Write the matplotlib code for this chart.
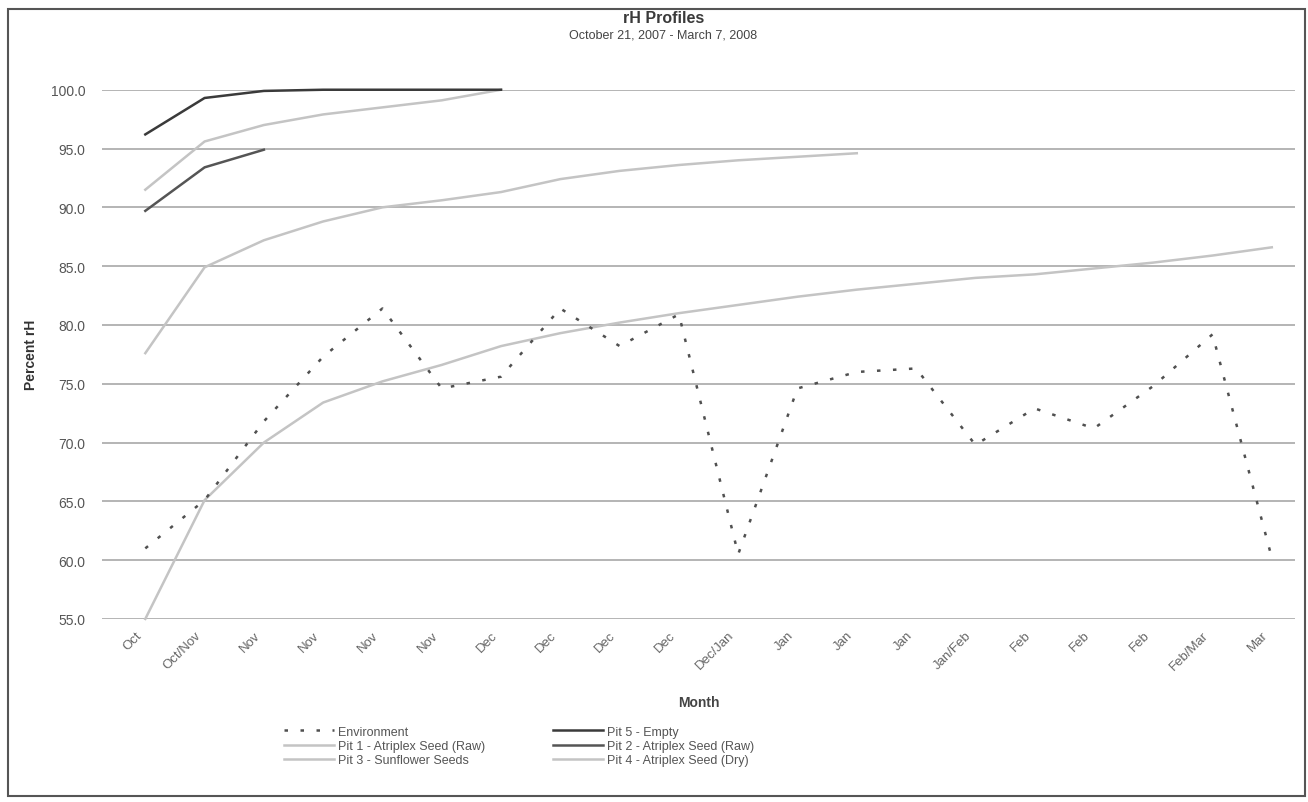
import matplotlib.pyplot as plt
import matplotlib.transforms as mtransforms
import numpy as np
from matplotlib.patches import Rectangle

plt.rcParams['font.family'] = ['Liberation Sans', 'DejaVu Sans']

months = ["Oct", "Oct/Nov", "Nov", "Nov", "Nov", "Nov", "Dec", "Dec", "Dec", "Dec",
          "Dec/Jan", "Jan", "Jan", "Jan", "Jan/Feb", "Feb", "Feb", "Feb", "Feb/Mar", "Mar"]

environment = [61.0, 65.1, 71.8, 77.3, 81.4, 74.6, 75.6, 81.4, 78.2, 80.9,
               60.5, 74.6, 76.0, 76.3, 69.8, 72.9, 71.2, 74.8, 79.2, 60.2]
pit5_empty = [96.2, 99.3, 99.9, 100.0, 100.0, 100.0, 100.0]
pit1_raw = [91.5, 95.6, 97.0, 97.9, 98.5, 99.1, 100.0]
pit2_raw = [89.7, 93.4, 94.9]
pit3_sunflower = [77.6, 84.9, 87.2, 88.8, 90.0, 90.6, 91.3, 92.4, 93.1, 93.6,
                  94.0, 94.3, 94.6]
pit4_dry = [55.0, 65.1, 70.0, 73.4, 75.2, 76.6, 78.2, 79.3, 80.2, 81.0,
            81.7, 82.4, 83.0, 83.5, 84.0, 84.3, 84.8, 85.3, 85.9, 86.6]

fig = plt.figure(figsize=(13.08, 8.03), dpi=100)
ax = fig.add_axes([0.078, 0.228, 0.912, 0.659])

# gridlines
for v in np.arange(55, 101, 5):
    ax.axhline(v, color="#a8a8a8", lw=1.2, zorder=1)

light = "#c4c4c4"
lw = 1.8
ax.plot(np.arange(len(environment)), environment, color="#505050", lw=1.8,
        linestyle=(0, (1.4, 5)), label="Environment", zorder=4, clip_on=False)
ax.plot(np.arange(len(pit1_raw)), pit1_raw, color=light, lw=lw,
        label="Pit 1 - Atriplex Seed (Raw)", zorder=3, clip_on=False)
ax.plot(np.arange(len(pit3_sunflower)), pit3_sunflower, color=light, lw=lw,
        label="Pit 3 - Sunflower Seeds", zorder=3, clip_on=False)
ax.plot(np.arange(len(pit5_empty)), pit5_empty, color="#3a3a3a", lw=lw,
        label="Pit 5 - Empty", zorder=3, clip_on=False)
ax.plot(np.arange(len(pit2_raw)), pit2_raw, color="#555555", lw=lw,
        label="Pit 2 - Atriplex Seed (Raw)", zorder=3, clip_on=False)
ax.plot(np.arange(len(pit4_dry)), pit4_dry, color=light, lw=lw,
        label="Pit 4 - Atriplex Seed (Dry)", zorder=3, clip_on=False)

ax.set_xlim(-0.73, 19.39)
ax.set_ylim(55, 100)
for s in ax.spines.values():
    s.set_visible(False)

ax.set_yticks(np.arange(55, 101, 5))
ax.set_yticklabels([f"{v:.1f}" for v in np.arange(55, 101, 5)])
ax.set_xticks(np.arange(len(months)))
ax.set_xticklabels(months, rotation=45, ha="right", va="top", rotation_mode="anchor")
ax.tick_params(axis="y", length=0, pad=12, labelsize=10, labelcolor="#555555")
ax.tick_params(axis="x", length=0, pad=7, labelsize=9.5, labelcolor="#666666")
shift = mtransforms.ScaledTranslation(-10 / 100, 0, fig.dpi_scale_trans)
for lab in ax.get_xticklabels():
    lab.set_transform(lab.get_transform() + shift)

ax.set_ylabel("Percent rH", fontsize=10, fontweight="bold", color="#333333", labelpad=9)
ax.set_xlabel("Month", fontsize=10, fontweight="bold", color="#444444", labelpad=17)

fig.text(0.507, 0.986, "rH Profiles", ha="center", va="top", fontsize=11.5,
         fontweight="bold", color="#3a3a3a")
fig.text(0.507, 0.963, "October 21, 2007 - March 7, 2008", ha="center", va="top",
         fontsize=9, color="#444444")

handles, labels = ax.get_legend_handles_labels()
leg = fig.legend(handles, labels, ncol=2, loc="upper left",
                 bbox_to_anchor=(0.217, 0.095), frameon=False, fontsize=9,
                 handlelength=4.0, handletextpad=0.3, columnspacing=5.5,
                 labelspacing=0.18, borderpad=0, borderaxespad=0)
for t in leg.get_texts():
    t.set_color("#555555")

fig.patches.append(Rectangle((0.006, 0.007), 0.992, 0.981, transform=fig.transFigure,
                             fill=False, edgecolor="#555555", lw=1.5))

fig.savefig("out.png", dpi=100)
